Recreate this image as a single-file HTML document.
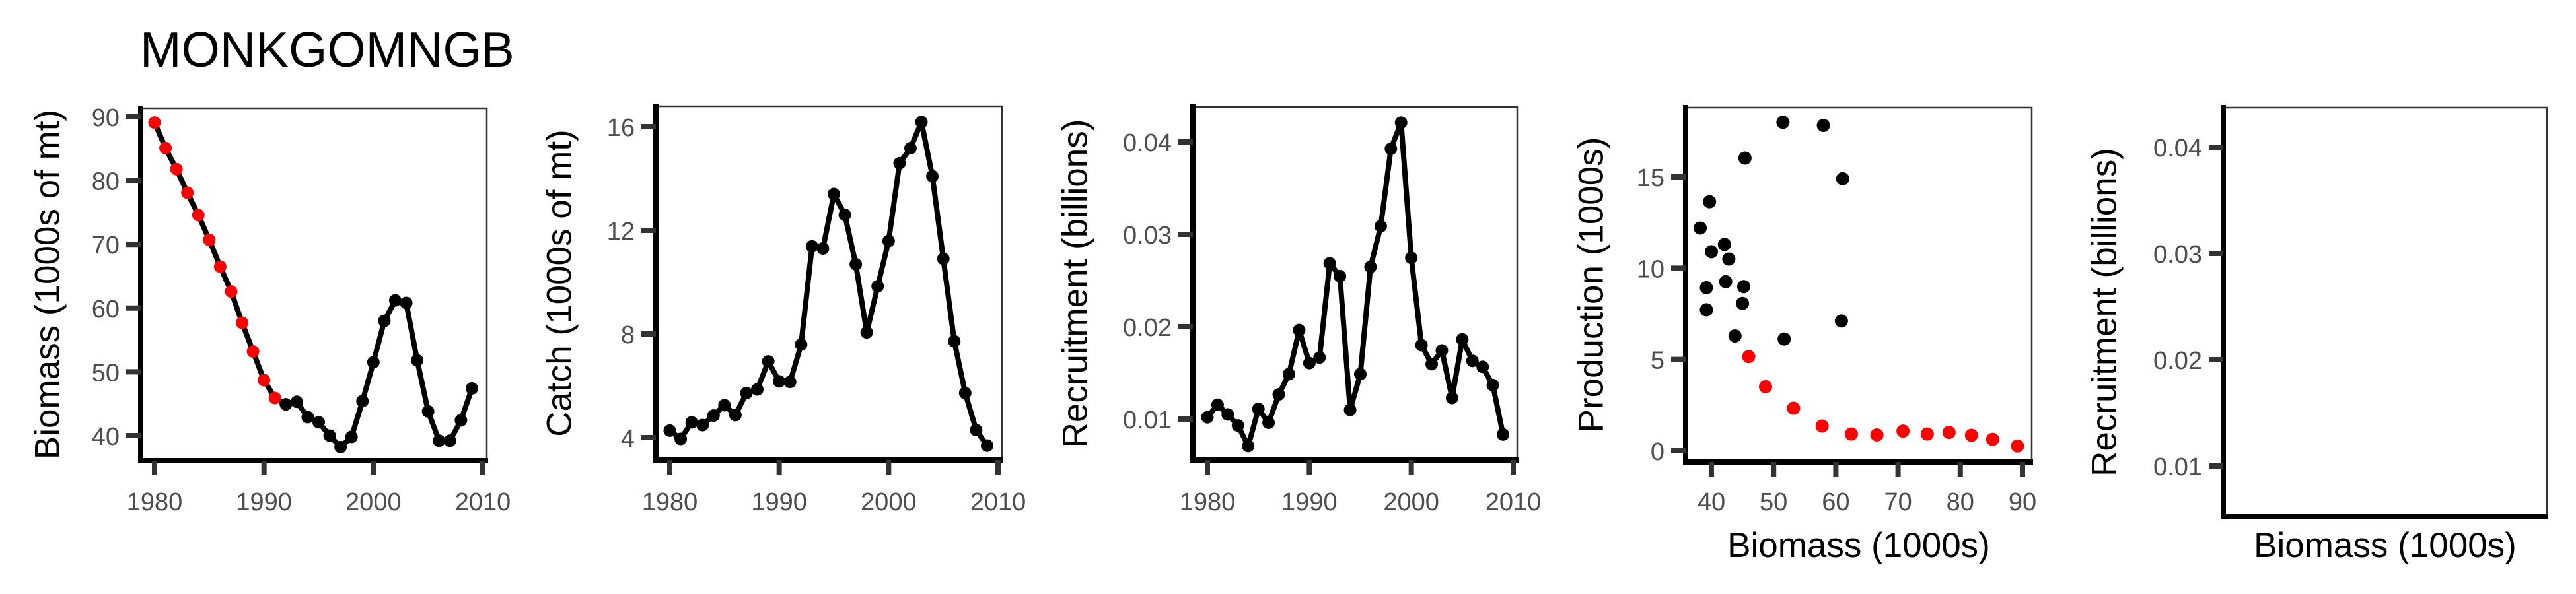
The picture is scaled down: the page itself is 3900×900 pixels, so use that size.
<!DOCTYPE html>
<html><head><meta charset="utf-8"><style>
html,body{margin:0;padding:0;background:#fff;}
svg{display:block;font-family:"Liberation Sans",Arial,sans-serif;}
</style></head><body>
<svg id="chart" width="3900" height="900" viewBox="0 0 3900 900" xmlns="http://www.w3.org/2000/svg">
<rect x="0" y="0" width="3900" height="900" fill="#fff"/>
<text x="212" y="101" font-size="75" fill="#000">MONKGOMNGB</text>
</svg>
<script>
const years = [1980,1981,1982,1983,1984,1985,1986,1987,1988,1989,1990,1991,1992,1993,1994,1995,1996,1997,1998,1999,2000,2001,2002,2003,2004,2005,2006,2007,2008,2009];
const redCount = 12;
const biomass = [89.1,85.1,81.8,78.1,74.6,70.7,66.5,62.6,57.7,53.2,48.7,45.9,44.9,45.3,42.9,42.1,40.0,38.2,39.8,45.4,51.5,58.0,61.2,60.8,51.8,43.8,39.2,39.2,42.4,47.4];
const catchVals = [4.27,3.95,4.59,4.48,4.85,5.25,4.87,5.72,5.86,6.94,6.17,6.15,7.59,11.38,11.30,13.40,12.60,10.69,8.06,9.84,11.59,14.59,15.17,16.18,14.09,10.90,7.72,5.72,4.29,3.69];
const recruitment = [0.0102,0.01155,0.0105,0.00931,0.00708,0.0111,0.00961,0.01267,0.01487,0.01963,0.01606,0.01666,0.02686,0.02546,0.0110,0.01487,0.02647,0.03087,0.03926,0.04208,0.02745,0.018,0.01594,0.01743,0.01229,0.01862,0.0163,0.01565,0.01368,0.00833];
const prodRedX = [46.0,48.7,53.2,57.8,62.5,66.6,70.8,74.7,78.2,81.8,85.2,89.2];
const prodRedY = [5.16,3.51,2.33,1.36,0.92,0.87,1.08,0.92,1.01,0.85,0.63,0.26];
const prodBlackX = [38.2,39.7,39.2,39.2,40.0,42.1,42.8,42.3,43.8,45.2,45.0,45.4,51.5,51.7,58.0,61.1,60.9];
const prodBlackY = [12.2,13.64,8.93,7.72,10.9,11.3,10.5,9.26,6.29,8.99,8.07,16.03,17.99,6.12,17.82,14.9,7.11];
const yearTicks = [1980,1990,2000,2010];
const biomassTicks = [40,50,60,70,80,90];
const catchTicks = [4,8,12,16];
const recTicks = [0.01,0.02,0.03,0.04];
const recTickLabels = ["0.01","0.02","0.03","0.04"];
const prodYTicks = [0,5,10,15];
const prodXTicks = [40,50,60,70,80,90];

const svg = document.getElementById('chart');
const NS = 'http://www.w3.org/2000/svg';
function mk(tag, attrs, parent){const e=document.createElementNS(NS,tag);for(const k in attrs)e.setAttribute(k,attrs[k]);(parent||svg).appendChild(e);return e;}
function lin(d0,d1,r0,r1){return v=>r0+(v-d0)/(d1-d0)*(r1-r0);}

function panel(p){
  const g = mk('g',{});
  
  
  const border = mk('rect',{x:p.L,y:p.T,width:p.R-p.L,height:p.B-p.T,fill:'none',stroke:'#333','stroke-width':2.5},g);
  
  
  const ya = mk('line',{x1:p.L,y1:p.T-4,x2:p.L,y2:p.B+4,stroke:'#000','stroke-width':8},g);
  
  
  const xa = mk('line',{x1:p.L-4,y1:p.B,x2:p.R+2,y2:p.B,stroke:'#000','stroke-width':8},g);
  
  
  p.yTicks.forEach((v,i)=>{
    const y=p.sy(v);
    const t=mk('line',{x1:p.L-22,y1:y,x2:p.L,y2:y,stroke:'#333','stroke-width':8},g);
    
    
    const l=mk('text',{x:p.L-32,y:y+14,'font-size':38,fill:'#4d4d4d','text-anchor':'end'},g);
    l.textContent = p.yLabels ? p.yLabels[i] : String(v);
    
    
  });
  if(p.xTicks){
    p.xTicks.forEach(v=>{
      const x=p.sx(v);
      const t=mk('line',{x1:x,y1:p.B,x2:x,y2:p.B+22,stroke:'#333','stroke-width':8},g);
      
      
      const l=mk('text',{x:x,y:773,'font-size':38,fill:'#4d4d4d','text-anchor':'middle'},g);
      l.textContent=String(v);
      
      
    });
  }
  const yt=mk('text',{x:0,y:0,'font-size':53,fill:'#000','text-anchor':'middle','dominant-baseline':'central',transform:`translate(${p.ytx},${(p.T+p.B)/2}) rotate(-90)`},g);
  yt.textContent=p.yTitle;
  
  
  if(p.xTitle){
    const xt=mk('text',{x:(p.L+p.R)/2,y:844,'font-size':53,fill:'#000','text-anchor':'middle'},g);
    xt.textContent=p.xTitle;
    
    
  }
  return g;
}

function series(p, vals, name){
  const g=p.g;
  const pts=years.map((yr,i)=>[p.sx(yr),p.sy(vals[i])]);
  const line=mk('polyline',{points:pts.map(q=>q.join(',')).join(' '),fill:'none',stroke:'#000','stroke-width':8,'stroke-linejoin':'round'},g);
  
  
  pts.forEach((q,i)=>{
    const c=mk('circle',{cx:q[0],cy:q[1],r:9.5,fill:(p.red && i<redCount)?'#ff0000':'#000'},g);
    
    
  });
}

const p1={name:'biomass-panel',L:213,R:737,T:164,B:698,sx:lin(1980,2010,234,731),sy:lin(40,90,660,177),yTicks:biomassTicks,xTicks:yearTicks,yTitle:'Biomass (1000s of mt)',ytx:72,red:true};
p1.g=panel(p1); series(p1,biomass,'biomass');
const p2={name:'catch-panel',L:993,R:1517,T:161,B:697,sx:lin(1980,2010,1014,1511),sy:lin(4,16,663,192),yTicks:catchTicks,xTicks:yearTicks,yTitle:'Catch (1000s of mt)',ytx:847};
p2.g=panel(p2); series(p2,catchVals,'catch');
const p3={name:'recruitment-panel',L:1806,R:2297,T:162,B:697,sx:lin(1980,2010,1828,2291),sy:lin(0.01,0.04,635,215),yTicks:recTicks,yLabels:recTickLabels,xTicks:yearTicks,yTitle:'Recruitment (billions)',ytx:1628};
p3.g=panel(p3); series(p3,recruitment,'recruitment');
const p4={name:'production-panel',L:2552,R:3076,T:163,B:700,sx:lin(40,90,2591,3062),sy:lin(0,15,683,268),yTicks:prodYTicks,xTicks:prodXTicks,yTitle:'Production (1000s)',xTitle:'Biomass (1000s)',ytx:2409};
p4.g=panel(p4);
prodBlackX.forEach((x,i)=>{
  const c=mk('circle',{cx:p4.sx(x),cy:p4.sy(prodBlackY[i]),r:10,fill:'#000'},p4.g);
  
  
});
prodRedX.forEach((x,i)=>{
  const c=mk('circle',{cx:p4.sx(x),cy:p4.sy(prodRedY[i]),r:10,fill:'#ff0000'},p4.g);
  
  
});
const p5={name:'stock-recruitment-panel',L:3366,R:3856,T:163,B:783,sx:lin(0,1,3366,3856),sy:lin(0.01,0.04,706,223),yTicks:recTicks,yLabels:recTickLabels,xTicks:null,yTitle:'Recruitment (billions)',xTitle:'Biomass (1000s)',ytx:3186};
p5.g=panel(p5);
</script>
</body></html>
